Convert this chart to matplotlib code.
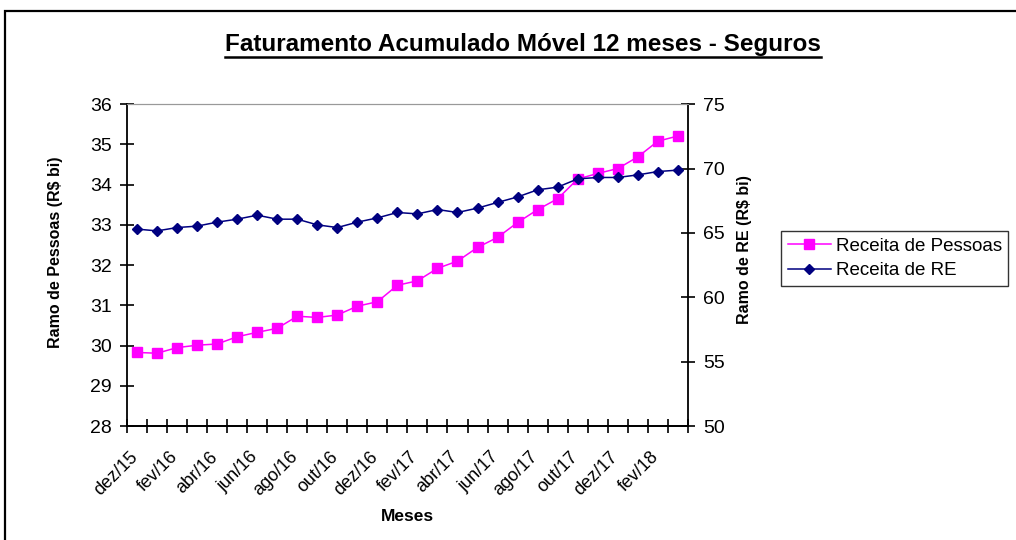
import matplotlib
matplotlib.use("Agg")
import matplotlib.pyplot as plt
from matplotlib.lines import Line2D
from matplotlib.patches import Rectangle

plt.rcParams['font.family'] = ['Liberation Sans', 'DejaVu Sans']

# dados (dez/15 .. mar/18)
meses = ["dez/15", "jan/16", "fev/16", "mar/16", "abr/16", "mai/16", "jun/16",
         "jul/16", "ago/16", "set/16", "out/16", "nov/16", "dez/16", "jan/17",
         "fev/17", "mar/17", "abr/17", "mai/17", "jun/17", "jul/17", "ago/17",
         "set/17", "out/17", "nov/17", "dez/17", "jan/18", "fev/18", "mar/18"]
pessoas = [29.83, 29.81, 29.95, 30.01, 30.04, 30.22, 30.33, 30.43, 30.73, 30.70,
           30.76, 30.98, 31.09, 31.50, 31.61, 31.92, 32.10, 32.44, 32.69, 33.06,
           33.38, 33.65, 34.14, 34.28, 34.40, 34.69, 35.08, 35.21]
re_ = [65.30, 65.16, 65.42, 65.53, 65.84, 66.07, 66.38, 66.07, 66.07, 65.63,
       65.42, 65.84, 66.17, 66.59, 66.48, 66.82, 66.59, 66.93, 67.37, 67.80,
       68.35, 68.56, 69.20, 69.31, 69.31, 69.51, 69.77, 69.88]

x = list(range(len(meses)))

fig = plt.figure(figsize=(10.16, 5.4), dpi=100)
ax = fig.add_axes([0.125, 0.211, 0.552, 0.596])
ax2 = ax.twinx()

l1, = ax.plot(x, pessoas, '-s', color='#FF00FF', markersize=6.5, lw=1.1,
              label='Receita de Pessoas')
l2, = ax2.plot(x, re_, '-D', color='#000080', markersize=5.5, lw=1.1,
               label='Receita de RE')

ax.set_xlim(-0.5, len(meses) - 0.5)
ax.set_ylim(28, 36)
ax2.set_ylim(50, 75)
ax.set_yticks(range(28, 37))
ax2.set_yticks(range(50, 76, 5))

# ticks nas fronteiras das categorias, rotulos a cada 2 meses
# (rotulos um pouco deslocados p/ esquerda, como no Excel)
ax.set_xticks([i - 0.5 for i in range(len(meses) + 1)], minor=True)
ax.set_xticks([i - 0.4 for i in x[::2]])
ax.set_xticklabels(meses[::2], rotation=45, ha='right', rotation_mode='anchor',
                   fontsize=13)
ax.tick_params(axis='x', which='major', length=0, pad=16)
ax.tick_params(axis='x', which='minor', direction='inout', length=10, width=1.2)
ax.tick_params(axis='y', direction='inout', length=10, width=1.2, labelsize=14, pad=6)
ax2.tick_params(axis='y', direction='inout', length=10, width=1.2, labelsize=14, pad=6)

for a in (ax, ax2):
    a.spines['top'].set_color('#999999')
    a.spines['left'].set_linewidth(1.3)
    a.spines['bottom'].set_linewidth(1.3)
    a.spines['right'].set_linewidth(1.3)
ax.spines['right'].set_visible(False)
ax2.spines['left'].set_visible(False)

ax.set_xlabel('Meses', fontsize=12.5, fontweight='bold', labelpad=7)
ax.set_ylabel('Ramo de Pessoas (R$ bi)', fontsize=11.5, fontweight='bold')
ax2.set_ylabel('Ramo de RE (R$ bi)', fontsize=11.5, fontweight='bold')
ax.yaxis.set_label_coords(-0.114, 0.54)
ax2.yaxis.set_label_coords(1.088, 0.547)

leg = fig.legend(handles=[l1, l2], loc='upper left', bbox_to_anchor=(0.769, 0.572),
                 fontsize=13.5, frameon=True, fancybox=False, edgecolor='black',
                 borderpad=0.35, handlelength=2.3, handletextpad=0.25,
                 labelspacing=0.4, borderaxespad=0)
leg.get_frame().set_linewidth(1.0)

title = fig.text(0.515, 0.918, 'Faturamento Acumulado Móvel 12 meses - Seguros',
                 ha='center', va='center', fontsize=17.5, fontweight='bold')

# sublinhado do titulo
fig.canvas.draw()
bb = title.get_window_extent().transformed(fig.transFigure.inverted())
fig.add_artist(Line2D([bb.x0, bb.x1], [bb.y0 - 0.002, bb.y0 - 0.002],
                      transform=fig.transFigure, color='black', lw=1.8))

# moldura externa
fig.add_artist(Rectangle((4.5 / 1016, -0.05), 1.2, 1 - 11 / 540 + 0.05,
                         transform=fig.transFigure, fill=False,
                         edgecolor='black', lw=1.6))

fig.savefig('out.png', dpi=100)
